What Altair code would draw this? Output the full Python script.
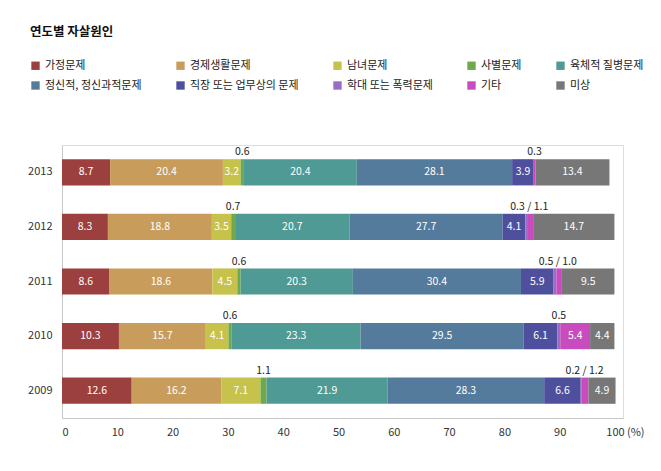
import altair as alt
import pandas as pd

years = ["2013", "2012", "2011", "2010", "2009"]
causes = ["가정문제", "경제생활문제", "남녀문제", "사별문제", "육체적 질병문제",
          "정신적, 정신과적문제", "직장 또는 업무상의 문제", "학대 또는 폭력문제", "기타", "미상"]
colors = ["#9c3f3f", "#c89d5c", "#c6c24b", "#6ea84f", "#4f9a94",
          "#557b9c", "#4e4f9d", "#9b6cc6", "#c94cbf", "#777777"]

v2013 = [8.7, 20.4, 3.2, 0.6, 20.4, 28.1, 3.9, 0.0, 0.3, 13.4]
v2012 = [8.3, 18.8, 3.5, 0.7, 20.7, 27.7, 4.1, 0.3, 1.1, 14.7]
v2011 = [8.6, 18.6, 4.5, 0.6, 20.3, 30.4, 5.9, 0.5, 1.0, 9.5]
v2010 = [10.3, 15.7, 4.1, 0.6, 23.3, 29.5, 6.1, 0.5, 5.4, 4.4]
v2009 = [12.6, 16.2, 7.1, 1.1, 21.9, 28.3, 6.6, 0.2, 1.2, 4.9]
values = {"2013": v2013, "2012": v2012, "2011": v2011, "2010": v2010, "2009": v2009}

x_ticks = [0, 10, 20, 30, 40, 50, 60, 70, 80, 90, 100]
title_text = "연도별 자살원인"
unit_text = "(%)"

FONT = "Noto Sans CJK KR"

rows, inside, above = [], [], []
for y in years:
    vals = values[y]
    cum = 0.0
    starts = []
    for i, (c, v) in enumerate(zip(causes, vals)):
        starts.append(cum)
        rows.append({"year": y, "cause": c, "order": i, "start": cum, "end": cum + v, "value": v})
        cum += v
    for i, c in enumerate(causes):
        v = vals[i]
        if c in ("사별문제", "학대 또는 폭력문제"):
            continue
        if c == "기타" and v < 2:
            continue
        inside.append({"year": y, "mid": starts[i] + v / 2, "label": f"{v:.1f}"})
    i = 3
    above.append({"year": y, "mid": starts[i] + vals[i] / 2, "label": f"{vals[i]:.1f}"})
    a, o = vals[7], vals[8]
    if o >= 2:
        above.append({"year": y, "mid": starts[7] + a / 2, "label": f"{a:.1f}"})
    elif a == 0:
        above.append({"year": y, "mid": starts[8] + o / 2, "label": f"{o:.1f}"})
    else:
        above.append({"year": y, "mid": starts[7] + (a + o) / 2, "label": f"{a:.1f} / {o:.1f}"})

df = pd.DataFrame(rows)
df_in = pd.DataFrame(inside)
df_ab = pd.DataFrame(above)

W, H = 561, 273
xscale = alt.Scale(domain=[0, 101.45], nice=False, zero=False)
yscale = alt.Scale(domain=years, paddingInner=0.52, paddingOuter=0.26)

bars = alt.Chart(df).mark_bar().encode(
    x=alt.X("start:Q", scale=xscale,
            axis=alt.Axis(values=x_ticks, title=None, grid=False, ticks=False,
                          labelFont=FONT, labelFontSize=11, labelColor="#333333",
                          labelPadding=8, domainColor="#c8c8c8")),
    x2="end:Q",
    y=alt.Y("year:N", scale=yscale,
            axis=alt.Axis(title=None, ticks=False, labelFont=FONT, labelFontSize=11,
                          labelColor="#333333", labelPadding=10, domainColor="#c8c8c8")),
    color=alt.Color("cause:N", scale=alt.Scale(domain=causes, range=colors),
                    legend=alt.Legend(title=None, orient="none", legendX=-32, legendY=-85,
                                      columns=5, direction="horizontal",
                                      symbolType="square", symbolSize=70,
                                      symbolStrokeWidth=0, labelFont=FONT,
                                      labelFontSize=11, labelColor="#222222",
                                      labelOffset=4, columnPadding=33, rowPadding=8,
                                      labelLimit=200)),
    order="order:Q",
)

in_text = alt.Chart(df_in).mark_text(font=FONT, fontSize=10.5, color="white").encode(
    x=alt.X("mid:Q", scale=xscale), y=alt.Y("year:N", scale=yscale), text="label:N")

ab_text = alt.Chart(df_ab).mark_text(font=FONT, fontSize=10.5, color="#222222",
                                     dy=-20).encode(
    x=alt.X("mid:Q", scale=xscale), y=alt.Y("year:N", scale=yscale), text="label:N")

pct = alt.Chart(pd.DataFrame({"t": [unit_text]})).mark_text(
    font=FONT, fontSize=11, color="#333333", align="left", baseline="top",
    dx=12, dy=9).encode(x=alt.datum(100), y=alt.value(H), text="t:N")

title = alt.Chart(pd.DataFrame({"t": [title_text]})).mark_text(
    font=FONT, fontSize=12.5, fontWeight="bold", color="#111111", align="left",
    baseline="middle").encode(x=alt.value(-32), y=alt.value(-113), text="t:N")

chart = alt.layer(bars, in_text, ab_text, pct, title).properties(
    width=W, height=H,
    autosize=alt.AutoSizeParams(type="none"),
    padding={"left": 54, "top": 137, "right": 30, "bottom": 44},
).configure_view(stroke=None).configure(background="white")

chart.save("out.html", embed_options={"renderer": "svg", "actions": False})
